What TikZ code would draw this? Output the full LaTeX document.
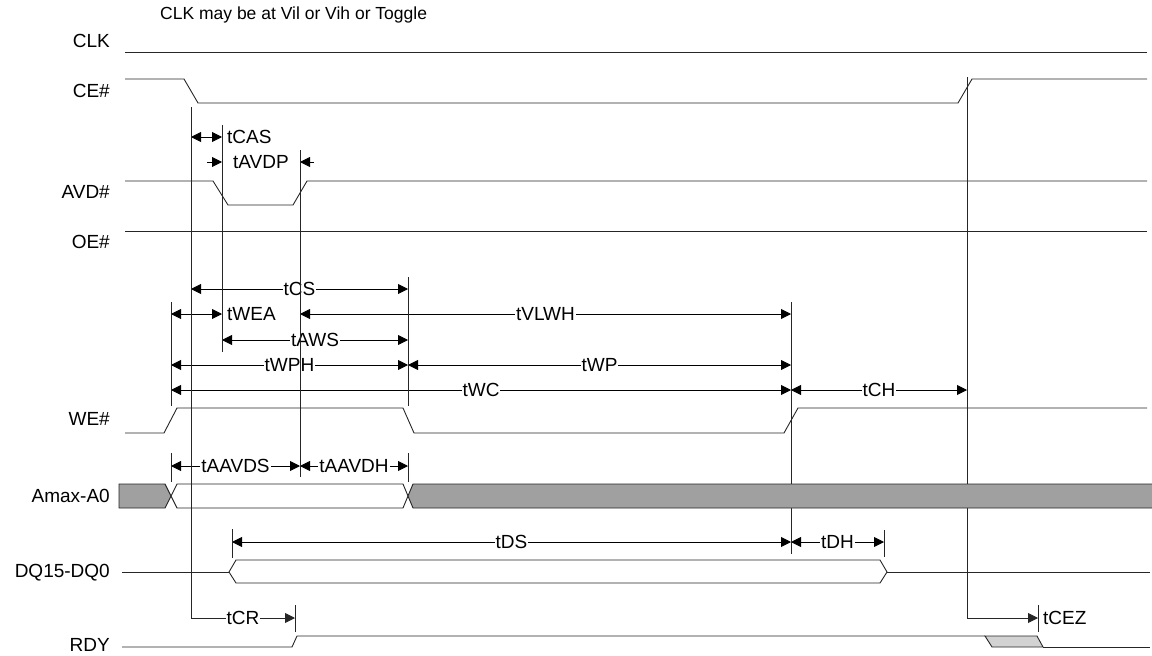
\documentclass[tikz,border=0pt]{standalone}
\usepackage{fontspec}
\setmainfont{Liberation Sans}
\usetikzlibrary{arrows.meta,positioning}

\definecolor{busgray}{HTML}{A0A0A0}
\definecolor{hizgray}{HTML}{D2D2D2}

\tikzset{
	wave/.style={line width=0.9pt, draw=black!85},
	mark line/.style={line width=1pt, draw=black!85},
	dim/.style={line width=0.9pt, {Triangle[length=10pt,width=10pt]}-{Triangle[length=10pt,width=10pt]}},
	dimto/.style={line width=0.9pt, -{Triangle[length=10pt,width=10pt]}},
	tlabel/.style={fill=white, inner sep=1pt, font=\fontsize{19}{21}\selectfont},
	signame/.style={anchor=east, inner sep=0pt, font=\fontsize{19}{21}\selectfont},
}

\begin{document}
\begin{tikzpicture}[x=1pt,y=-1pt]
	\useasboundingbox (0,0) rectangle (1152,656);

	% signal names
	\node[anchor=west, inner sep=0pt, font=\fontsize{17.5}{20}\selectfont] (note) at (160,15) {CLK may be at Vil or Vih or Toggle};
	\node[signame] (clk) at (110,41) {CLK};
	\node[signame] (ce) at (110,91) {CE\#};
	\node[signame] (avd) at (110,192) {AVD\#};
	\node[signame] (oe) at (110,242) {OE\#};
	\node[signame] (we) at (110,419) {WE\#};
	\node[signame] (addr) at (110,496) {Amax-A0};
	\node[signame] (dq) at (110,573) {DQ15-DQ0};
	\node[signame] (rdy) at (110,645) {RDY};

	% waveforms
	\draw[wave] (125,52) -- (1147,52);
	\draw[wave] (125,79) -- (184,79) -- (198,103) -- (958,103) -- (972,79) -- (1147,79);
	\draw[wave] (125,181) -- (213,181) -- (228,205) -- (293,205) -- (307,181) -- (1147,181);
	\draw[wave] (125,231) -- (1147,231);
	\draw[wave] (125,433) -- (164,433) -- (177,408) -- (403,408) -- (414,433) -- (784,433) -- (798,408) -- (1147,408);

	% address bus (left part)
	\draw[wave, fill=busgray] (119,484) -- (165,484) -- (171,496) -- (165,508) -- (119,508) -- cycle;
	\draw[wave, fill=white] (171,496) -- (177,484) -- (403,484) -- (408,496) -- (403,508) -- (177,508) -- cycle;

	% data bus
	\draw[wave] (122,572) -- (229,572);
	\draw[wave] (229,572) -- (236,560) -- (880,560) -- (887,572) -- (880,583) -- (236,583) -- cycle;
	\draw[wave] (887,572) -- (1150,572);

	% ready
	\draw[wave] (122,647) -- (292,647) -- (297,636) -- (985,636);
	\draw[wave, fill=hizgray] (985,636) -- (1037,636) -- (1043,647) -- (992,647) -- cycle;
	\draw[wave] (1043,647) -- (1150,647);

	% timing arrows
	\draw[dim] (191,137) -- (222,137);
	\node[tlabel, anchor=west] (tcas) at (226,137) {tCAS};
	\draw[dimto] (207,162) -- (222,162);
	\draw[dimto] (314,162) -- (300,162);
	\node[tlabel] (tavdp) at (261,162) {tAVDP};

	\draw[dim] (191,289) -- node[tlabel] (tcs) {tCS} (408,289);
	\draw[dim] (171,314) -- (222,314);
	\node[tlabel, anchor=west] (twea) at (226,314) {tWEA};
	\draw[dim] (300,314) -- node[tlabel] (tvlwh) {tVLWH} (791,314);
	\draw[dim] (222,340) -- node[tlabel] (taws) {tAWS} (408,340);
	\draw[dim] (171,365) -- node[tlabel] (twph) {tWPH} (408,365);
	\draw[dim] (408,365) -- node[tlabel] (twp) {tWP} (791,365);
	\draw[dim] (171,390) -- node[tlabel] (twc) {tWC} (791,390);
	\draw[dim] (791,390) -- node[tlabel] (tch) {tCH} (967,390);
	\draw[dim] (171,466) -- node[tlabel] (taavds) {tAAVDS} (300,466);
	\draw[dim] (300,466) -- node[tlabel] (taavdh) {tAAVDH} (408,466);
	\draw[dim] (232,542) -- node[tlabel] (tds) {tDS} (791,542);
	\draw[dim] (791,542) -- node[tlabel] (tdh) {tDH} (884,542);

	% reference lines
	\draw[mark line] (222,125) -- (222,352);
	\draw[mark line] (300,150) -- (300,477);
	\draw[mark line] (408,277) -- (408,406);
	\draw[mark line] (171,302) -- (171,406);
	\draw[mark line] (791,302) -- (791,554);
	\foreach \x in {171, 408} \draw[mark line] (\x,453) -- (\x,482);
	\draw[mark line] (232,529) -- (232,558);
	\draw[mark line] (884,530) -- (884,557);
	\foreach \x in {295, 1038} \draw[mark line] (\x,605) -- (\x,632);

	\draw[mark line, dimto] (191,107) -- (191,618) -- node[tlabel] (tcr) {tCR} (295,618);
	\draw[mark line, dimto] (967,77) -- (967,618) -- (1038,618);
	\node[tlabel, anchor=west] (tcez) at (1042,618) {tCEZ};

	% address bus (right part, over the reference lines)
	\fill[busgray] (408,496) -- (413,484) -- (1152,484) -- (1152,508) -- (413,508) -- cycle;
	\draw[wave] (1152,484) -- (413,484) -- (408,496) -- (413,508) -- (1152,508);

\end{tikzpicture}
\end{document}
